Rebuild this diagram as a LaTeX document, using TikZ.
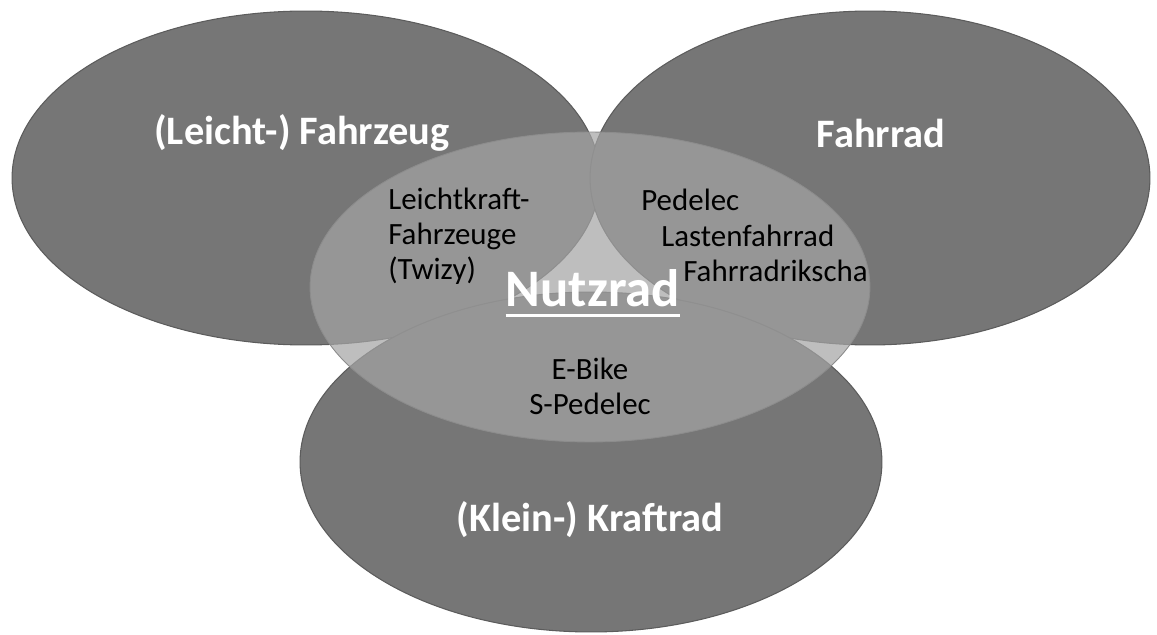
\documentclass[tikz,border=0pt]{standalone}
\usepackage{fontspec}
\setmainfont{Carlito}
\usepackage{xcolor}
\definecolor{setgray}{RGB}{118,118,118}
\definecolor{setedge}{RGB}{92,92,92}
\definecolor{coregray}{RGB}{164,164,164}
\usepackage{tikz}
\usetikzlibrary{shapes.geometric,calc}

\begin{document}
\begin{tikzpicture}[
  x=0.02cm, y=-0.02cm,
  setell/.style={ellipse, draw=setedge, line width=0.6pt, fill=setgray, inner sep=0pt},
  settitle/.style={text=white, font=\fontsize{23}{27}\selectfont\bfseries},
  item/.style={text=black, font=\fontsize{17.6}{20}\selectfont, align=left, inner sep=0pt}
]
\useasboundingbox (0,0) rectangle (1157,635);

%% Three sets
\node[setell, minimum width=11.76cm, minimum height=6.68cm] (fzg) at (306,178) {};
\node[setell, minimum width=11.2cm, minimum height=6.68cm] (rad) at (870,178) {};
\node[setell, minimum width=11.64cm, minimum height=6.8cm] (krad) at (591,462) {};

%% Core set on top
\node[ellipse, draw=black!45, line width=0.5pt, fill=coregray, fill opacity=0.71,
      inner sep=0pt, minimum width=11.2cm, minimum height=6.2cm] (core) at (590,287) {};

%% Titles
\node[settitle] (fzgtxt) at (302,133) {(Leicht-) Fahrzeug};
\node[settitle] (radtxt) at (881,133) {Fahrrad};
\node[settitle] (kradtxt) at (590,520) {(Klein-) Kraftrad};

%% Items
\node[item, anchor=west] (lkf) at (388,236) {Leichtkraft-\\Fahrzeuge\\(Twizy)};
\node[item, anchor=west] (ped) at (641,200) {Pedelec};
\node[item, anchor=west] (last) at (661,236) {Lastenfahrrad};
\node[item, anchor=west] (rik) at (683,271) {Fahrradrikscha};
\node[item, align=center] (ebk) at (590,386) {E-Bike\\S-Pedelec};

%% Nutzrad
\node[text=white, font=\fontsize{30}{34}\selectfont\bfseries, inner sep=0pt] (nutz) at (593,288) {Nutzrad};
\draw[white, line width=2pt] ($(nutz.base west)+(0,9)$) -- ($(nutz.base east)+(0,9)$);

\end{tikzpicture}
\end{document}
